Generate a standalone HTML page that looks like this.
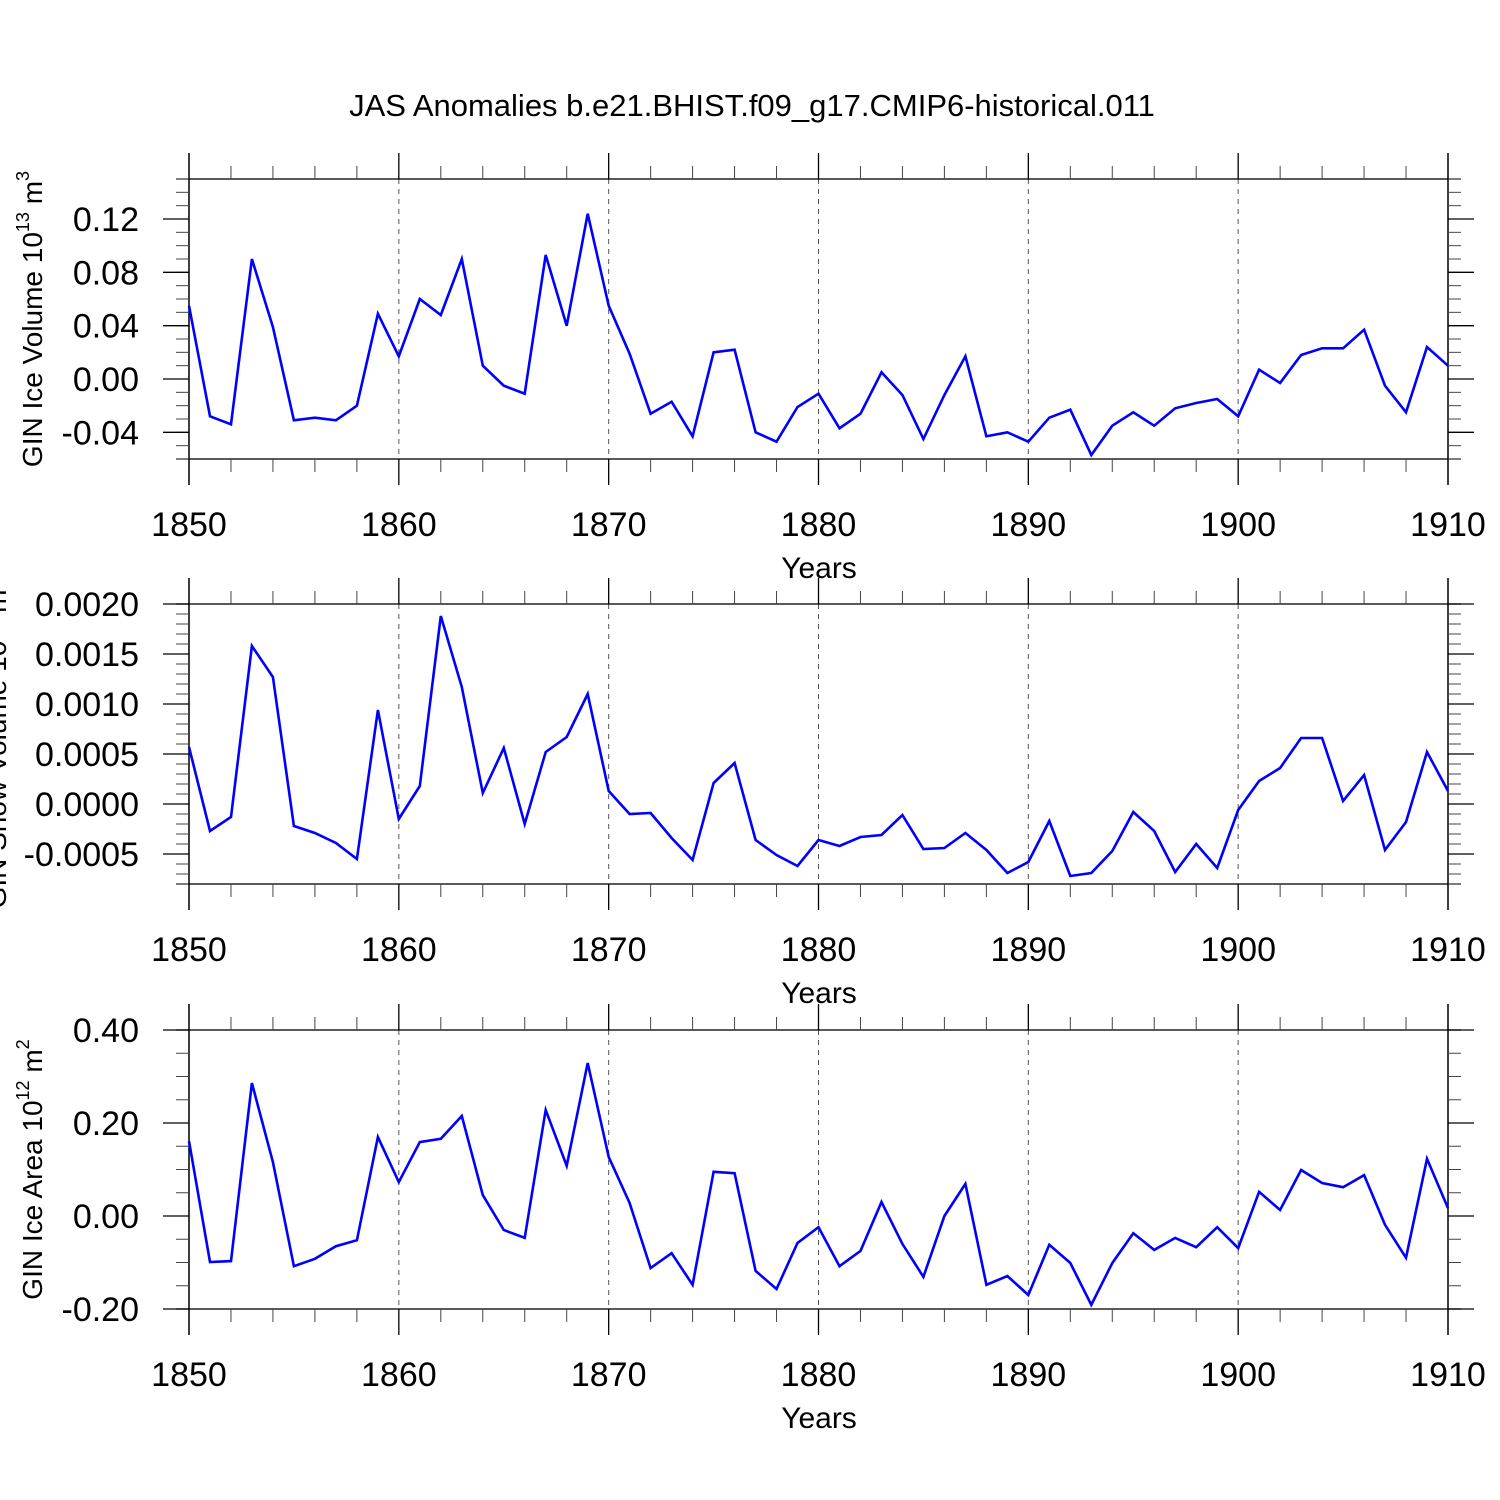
<!DOCTYPE html>
<html><head><meta charset="utf-8"><style>
html,body{margin:0;padding:0;background:#fff;}
svg{display:block;font-family:"Liberation Sans",sans-serif;}
</style></head><body>
<svg id="chart" width="1500" height="1500" viewBox="0 0 1500 1500" xmlns="http://www.w3.org/2000/svg">
<rect width="1500" height="1500" fill="#fff"/>
<text x="752" y="116" font-size="31" text-anchor="middle">JAS Anomalies b.e21.BHIST.f09_g17.CMIP6-historical.011</text>
</svg>
<script>
const years = [];
for (let y = 1850; y <= 1910; y++) years.push(y);
const xTickLabels = ["1850","1860","1870","1880","1890","1900","1910"];
const iceVolume = [0.055,-0.028,-0.034,0.090,0.039,-0.031,-0.029,-0.031,-0.020,0.049,0.017,0.060,0.048,0.090,0.010,-0.005,-0.011,0.093,0.040,0.124,0.055,0.019,-0.026,-0.017,-0.043,0.020,0.022,-0.040,-0.047,-0.021,-0.011,-0.037,-0.026,0.005,-0.012,-0.045,-0.012,0.017,-0.043,-0.040,-0.047,-0.029,-0.023,-0.057,-0.035,-0.025,-0.035,-0.022,-0.018,-0.015,-0.028,0.007,-0.003,0.018,0.023,0.023,0.037,-0.005,-0.025,0.024,0.010];
const snowVolume = [0.00057,-0.00027,-0.00013,0.00158,0.00127,-0.00022,-0.00029,-0.00039,-0.00055,0.00094,-0.00015,0.00018,0.00188,0.00117,0.00011,0.00056,-0.0002,0.00052,0.00067,0.0011,0.00013,-0.0001,-0.00009,-0.00034,-0.00056,0.00021,0.00041,-0.00036,-0.00051,-0.00062,-0.00036,-0.00042,-0.00033,-0.00031,-0.00011,-0.00045,-0.00044,-0.00029,-0.00046,-0.00069,-0.00058,-0.00017,-0.00072,-0.00069,-0.00047,-0.00008,-0.00027,-0.00068,-0.0004,-0.00064,-0.00006,0.00023,0.00036,0.00066,0.00066,0.00003,0.00029,-0.00046,-0.00018,0.00052,0.00013];
const iceArea = [0.161,-0.099,-0.097,0.286,0.116,-0.108,-0.092,-0.065,-0.052,0.170,0.073,0.159,0.166,0.215,0.045,-0.030,-0.047,0.228,0.108,0.329,0.127,0.028,-0.112,-0.080,-0.148,0.095,0.092,-0.118,-0.157,-0.058,-0.024,-0.108,-0.075,0.030,-0.060,-0.131,0.0,0.069,-0.148,-0.129,-0.170,-0.062,-0.101,-0.191,-0.101,-0.037,-0.073,-0.047,-0.067,-0.024,-0.069,0.052,0.013,0.099,0.071,0.062,0.088,-0.019,-0.090,0.123,0.017];
const iceVolTicks = ["0.12","0.08","0.04","0.00","-0.04"];
const snowTicks = ["0.0020","0.0015","0.0010","0.0005","0.0000","-0.0005"];
const areaTicks = ["0.40","0.20","0.00","-0.20"];

const NS = "http://www.w3.org/2000/svg";
const svg = document.getElementById('chart');
const X0 = 189, X1 = 1448;
const xs = v => X0 + (v - 1850) / 60 * (X1 - X0);
function el(tag, attrs, parent) {
  const e = document.createElementNS(NS, tag);
  for (const k in attrs) e.setAttribute(k, attrs[k]);
  (parent || svg).appendChild(e);
  return e;
}
function line(g, x1, y1, x2, y2, extra) {
  return el('line', Object.assign({x1, y1, x2, y2, stroke: '#000', 'stroke-width': 1.3}, extra || {}), g);
}
function panel(name, top, bot, ymin, ymax, minorStep, ticks, values, labelX, labelParts) {
  const g = el('g', {});
  
  
  const ys = v => bot - (v - ymin) / (ymax - ymin) * (bot - top);
  for (let yr = 1860; yr <= 1900; yr += 10) {
    const gl = line(g, xs(yr), top, xs(yr), bot, {'stroke-dasharray': '5,5', 'stroke-width': 1, stroke: '#555'});
    
    
  }
  const fr = el('rect', {x: X0, y: top, width: X1 - X0, height: bot - top, fill: 'none', stroke: '#000', 'stroke-width': 1.3}, g);
  
  
  line(g, X0 - 13, top, X0, top); line(g, X1, top, X1 + 13, top);
  line(g, X0 - 13, bot, X0, bot); line(g, X1, bot, X1 + 13, bot);
  line(g, X0, top - 26, X0, bot + 26);
  line(g, X1, top - 26, X1, bot + 26);
  const nMin = Math.round((ymax - ymin) / minorStep);
  for (let i = 0; i <= nMin; i++) {
    const y = ys(ymin + i * minorStep);
    line(g, X0 - 13, y, X0, y, {stroke: '#444', 'stroke-width': 1});
    line(g, X1, y, X1 + 13, y, {stroke: '#444', 'stroke-width': 1});
  }
  ticks.forEach(t => {
    const v = parseFloat(t);
    const y = ys(v);
    line(g, X0 - 26, y, X0, y);
    line(g, X1, y, X1 + 26, y);
    const tx = el('text', {x: 139, y: y + 12, 'font-size': 34, 'text-anchor': 'end'}, g);
    
    
    tx.textContent = t;
  });
  for (let yr = 1850; yr <= 1910; yr += 2) {
    const x = xs(yr);
    const major = yr % 10 === 0;
    const len = major ? 26 : 13;
    line(g, x, top - len, x, top, {'stroke-width': major ? 1.3 : 1, stroke: major ? '#000' : '#444'});
    line(g, x, bot, x, bot + len, {'stroke-width': major ? 1.3 : 1, stroke: major ? '#000' : '#444'});
  }
  xTickLabels.forEach(t => {
    const tx = el('text', {x: xs(parseFloat(t)), y: bot + 77, 'font-size': 34, 'text-anchor': 'middle'}, g);
    
    
    tx.textContent = t;
  });
  const xt = el('text', {x: 819, y: bot + 119, 'font-size': 30, 'text-anchor': 'middle'}, g);
  
  
  xt.textContent = 'Years';
  const cy = (top + bot) / 2;
  const yt = el('text', {x: 0, y: 0, 'font-size': 28, 'text-anchor': 'middle', transform: `translate(${labelX},${cy}) rotate(-90)`}, g);
  
  
  labelParts.forEach(p => {
    const ts = el('tspan', p.sup ? {'font-size': 18, dy: -13} : {'font-size': 28, dy: p.down ? 13 : 0}, yt);
    ts.textContent = p.t;
  });
  const d = values.map((v, i) => (i ? 'L' : 'M') + xs(years[i]).toFixed(1) + ',' + ys(v).toFixed(1)).join(' ');
  const p = el('path', {d, fill: 'none', stroke: '#0000ff', 'stroke-width': 2.6, 'stroke-linejoin': 'miter'}, g);
  
  
}
panel('ice-volume', 179, 459, -0.06, 0.15, 0.01, iceVolTicks, iceVolume, 42,
  [{t: 'GIN Ice Volume 10'}, {t: '13', sup: true}, {t: ' m', down: true}, {t: '3', sup: true}]);
panel('snow-volume', 604, 884, -0.0008, 0.002, 0.0001, snowTicks, snowVolume, 6,
  [{t: 'GIN Snow Volume 10'}, {t: '13', sup: true}, {t: ' m', down: true}, {t: '3', sup: true}]);
panel('ice-area', 1030, 1309, -0.2, 0.4, 0.05, areaTicks, iceArea, 42,
  [{t: 'GIN Ice Area 10'}, {t: '12', sup: true}, {t: ' m', down: true}, {t: '2', sup: true}]);
</script>
</body></html>
